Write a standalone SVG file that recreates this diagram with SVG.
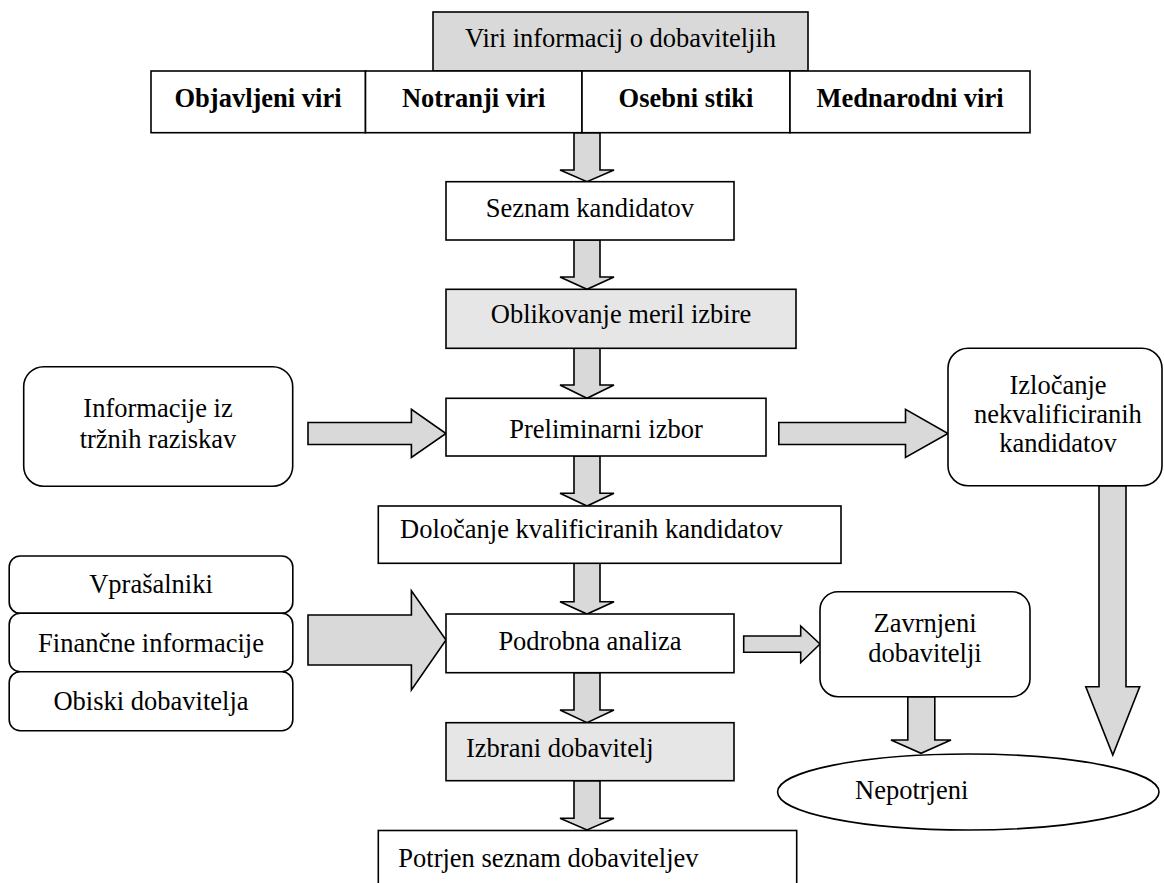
<svg xmlns="http://www.w3.org/2000/svg" width="1164" height="883" viewBox="0 0 1164 883">
<style>
.box{fill:#ffffff;stroke:#000;stroke-width:1.6}
.gray{fill:#d9d9d9;stroke:#000;stroke-width:1.6}
.lgray{fill:#e6e6e6;stroke:#000;stroke-width:1.6}
.arr{fill:#d9d9d9;stroke:#000;stroke-width:1.6;stroke-linejoin:miter}
text{font-family:"Liberation Serif","Times New Roman",serif;font-size:26.5px;fill:#000}
.c{text-anchor:middle}
.b{font-weight:bold}
</style>
<rect width="1164" height="883" fill="#fff"/>
<g id="connectors">
<polygon class="arr" points="574,132.7 600,132.7 600,170 614,170 587,181.7 560,170 574,170"/>
<polygon class="arr" points="574,240 600,240 600,277 614,277 587,289.3 560,277 574,277"/>
<polygon class="arr" points="574,348.3 600,348.3 600,385 614,385 587,398.3 560,385 574,385"/>
<polygon class="arr" points="574,456 600,456 600,493.3 614,493.3 587,506 560,493.3 574,493.3"/>
<polygon class="arr" points="574,563.3 600,563.3 600,601.7 614,601.7 587,614 560,601.7 574,601.7"/>
<polygon class="arr" points="574,672.7 600,672.7 600,710 614,710 587,722.7 560,710 574,710"/>
<polygon class="arr" points="574,780.7 600,780.7 600,818.3 614,818.3 587,830 560,818.3 574,818.3"/>
<polygon class="arr" points="308,422.5 411.4,422.5 411.4,409.3 446,433.5 411.4,457.5 411.4,444.5 308,444.5"/>
<polygon class="arr" points="778.8,422.5 905.5,422.5 905.5,409.3 948,433.5 905.5,457.5 905.5,444.5 778.8,444.5"/>
<polygon class="arr" points="308,615 411.4,615 411.4,590.7 446,640 411.4,690 411.4,665 308,665"/>
<polygon class="arr" points="743.7,636 800.7,636 800.7,626 820,644 800.7,662.7 800.7,652.3 743.7,652.3"/>
<polygon class="arr" points="907.8,696.7 934.8,696.7 934.8,740 951,740 921,753.3 891,740 907.8,740"/>
<polygon class="arr" points="1099,485.7 1126,485.7 1126,686.7 1139.7,686.7 1112.8,755 1085.8,686.7 1099,686.7"/>
</g>
<g id="n-viri">
<rect class="gray" x="433" y="12" width="375" height="59"/>
<text class="c" x="620.5" y="47">Viri informacij o dobaviteljih</text>
</g>
<g id="n-objavljeni">
<rect class="box" x="151" y="71" width="214.5" height="61.7"/>
<text class="c b" x="258" y="107.3">Objavljeni viri</text>
</g>
<g id="n-notranji">
<rect class="box" x="365.5" y="71" width="216.5" height="61.7"/>
<text class="c b" x="473.7" y="107.3">Notranji viri</text>
</g>
<g id="n-osebni">
<rect class="box" x="582" y="71" width="208" height="61.7"/>
<text class="c b" x="686" y="107.3">Osebni stiki</text>
</g>
<g id="n-mednarodni">
<rect class="box" x="790" y="71" width="240" height="61.7"/>
<text class="c b" x="910" y="107.3">Mednarodni viri</text>
</g>
<g id="n-seznam">
<rect class="box" x="446" y="181.7" width="288" height="58.3"/>
<text class="c" x="590" y="216.7">Seznam kandidatov</text>
</g>
<g id="n-oblikovanje">
<rect class="lgray" x="446" y="289.3" width="350" height="59"/>
<text class="c" x="621" y="323.3">Oblikovanje meril izbire</text>
</g>
<g id="n-informacije">
<rect class="box" x="23.7" y="366.7" width="269" height="119.5" rx="20" ry="20"/>
<text class="c" x="158" y="416.7">Informacije iz</text>
<text class="c" x="158" y="448.3">tržnih raziskav</text>
</g>
<g id="n-preliminarni">
<rect class="box" x="446" y="398.3" width="320" height="57.7"/>
<text class="c" x="606" y="438.3">Preliminarni izbor</text>
</g>
<g id="n-izlocanje">
<rect class="box" x="948" y="348.3" width="214" height="137.4" rx="20" ry="20"/>
<text class="c" x="1058" y="394">Izločanje</text>
<text class="c" x="1058" y="423">nekvalificiranih</text>
<text class="c" x="1058" y="452">kandidatov</text>
</g>
<g id="n-dolocanje">
<rect class="box" x="378.3" y="506" width="462.7" height="57.3"/>
<text x="400" y="538.3">Določanje kvalificiranih kandidatov</text>
</g>
<g id="n-vprasalniki">
<rect class="box" x="9.2" y="556" width="283.6" height="57.3" rx="11" ry="11"/>
<text class="c" x="151" y="593.3">Vprašalniki</text>
</g>
<g id="n-financne">
<rect class="box" x="9.2" y="613.3" width="283.6" height="58.4" rx="11" ry="11"/>
<text class="c" x="151" y="651.7">Finančne informacije</text>
</g>
<g id="n-obiski">
<rect class="box" x="9.2" y="671.7" width="283.6" height="59" rx="11" ry="11"/>
<text class="c" x="151" y="710">Obiski dobavitelja</text>
</g>
<g id="n-podrobna">
<rect class="box" x="446" y="614" width="288" height="58.7"/>
<text class="c" x="590" y="650">Podrobna analiza</text>
</g>
<g id="n-zavrnjeni">
<rect class="box" x="820" y="591.7" width="210" height="105" rx="18" ry="18"/>
<text class="c" x="925" y="631.7">Zavrnjeni</text>
<text class="c" x="925" y="661.7">dobavitelji</text>
</g>
<g id="n-izbrani">
<rect class="lgray" x="446" y="722.7" width="288" height="58"/>
<text x="466" y="756.7">Izbrani dobavitelj</text>
</g>
<g id="n-nepotrjeni">
<ellipse class="box" cx="968.3" cy="792" rx="190.7" ry="38"/>
<text x="855" y="799.3">Nepotrjeni</text>
</g>
<g id="n-potrjen">
<rect class="box" x="378.3" y="830.5" width="418.4" height="70"/>
<text x="398.3" y="866.5">Potrjen seznam dobaviteljev</text>
</g>
</svg>
